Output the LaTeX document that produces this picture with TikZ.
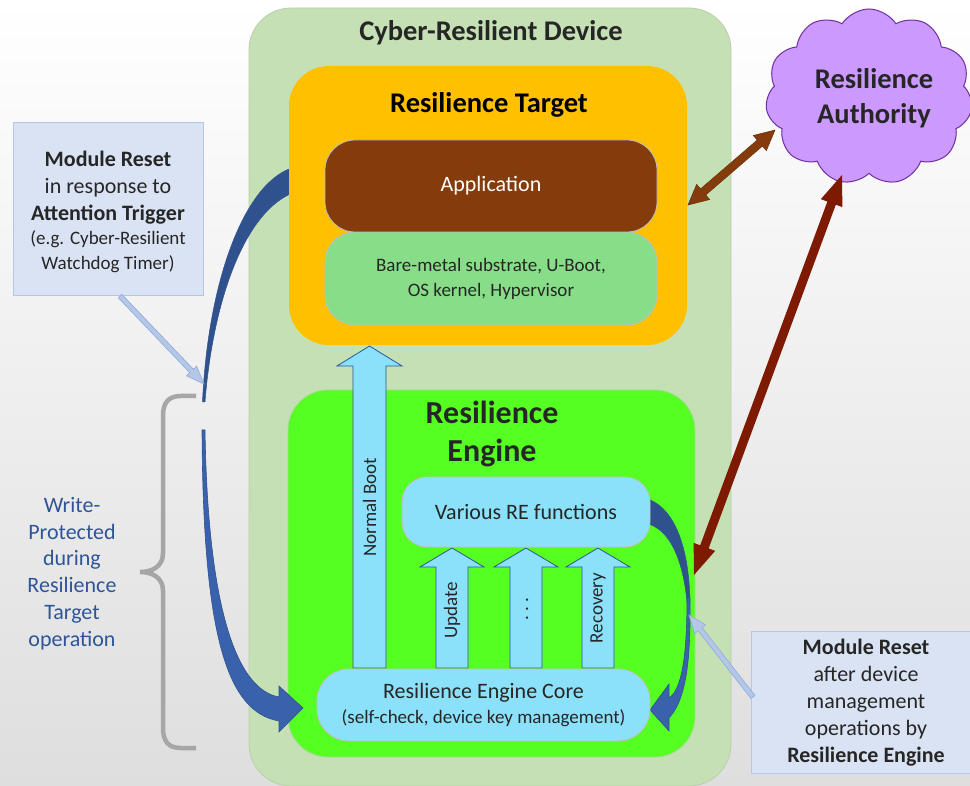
\documentclass[tikz,border=0pt]{standalone}
\usepackage{fontspec}
\setmainfont{Carlito}
\usetikzlibrary{calc,shapes.symbols}

\definecolor{bgmid}{HTML}{F5F5F5}
\definecolor{bgbot}{HTML}{DEDEDE}
\definecolor{devgreen}{HTML}{C5E0B4}
\definecolor{devedge}{HTML}{B9CFAA}
\definecolor{tgtorange}{HTML}{FFC000}
\definecolor{appbrown}{HTML}{843C0C}
\definecolor{brownedge}{HTML}{6A300A}
\definecolor{baregreen}{HTML}{88DD88}
\definecolor{enggreen}{HTML}{55FF22}
\definecolor{engedge}{HTML}{A9D89A}
\definecolor{lblue}{HTML}{8BE1F9}
\definecolor{boxedge}{HTML}{BFBFBF}
\definecolor{arrowedge}{HTML}{2F5597}
\definecolor{darkcurve}{HTML}{2F528F}
\definecolor{midcurve}{HTML}{3A62AC}
\definecolor{callfill}{HTML}{DAE3F3}
\definecolor{calledge}{HTML}{B4C7E7}
\definecolor{calarrow}{HTML}{B4C7E7}
\definecolor{calarrowedge}{HTML}{8FAADC}
\definecolor{cloudfill}{HTML}{CC99FF}
\definecolor{cloudedge}{HTML}{7030A0}
\definecolor{darkred}{HTML}{7F1A02}
\definecolor{bracegray}{HTML}{A6A6A6}
\definecolor{wptext}{HTML}{2F5597}
\definecolor{txt}{HTML}{262626}

\newcommand\fHead{\fontsize{28.5}{35}\selectfont\bfseries}
\newcommand\fEng{\fontsize{32}{38}\selectfont\bfseries}
\newcommand\fBig{\fontsize{22}{26}\selectfont}
\newcommand\fMid{\fontsize{19}{25}\selectfont}
\newcommand\fArr{\fontsize{19}{23}\selectfont}
\newcommand\fCall{\fontsize{22}{27}\selectfont}
\newcommand\fWP{\fontsize{22}{26.7}\selectfont}

% block arrow: from, to, shaft half width, head half width, head length, style
\newcommand\blockarrow[6]{%
  \coordinate (bah) at ($(#2)!#5!(#1)$);
  \path[#6] ($(#1)!#3!90:(#2)$) -- ($(bah)!#3!90:(#2)$) -- ($(bah)!#4!90:(#2)$)
    -- (#2) -- ($(bah)!#4!-90:(#2)$) -- ($(bah)!#3!-90:(#2)$)
    -- ($(#1)!#3!-90:(#2)$) -- cycle;}
% double-headed block arrow
\newcommand\dblarrow[6]{%
  \coordinate (dah1) at ($(#1)!#5!(#2)$);
  \coordinate (dah2) at ($(#2)!#5!(#1)$);
  \path[#6] (#1) -- ($(dah1)!#4!90:(#2)$) -- ($(dah1)!#3!90:(#2)$)
    -- ($(dah2)!#3!90:(#2)$) -- ($(dah2)!#4!90:(#2)$) -- (#2)
    -- ($(dah2)!#4!-90:(#2)$) -- ($(dah2)!#3!-90:(#2)$)
    -- ($(dah1)!#3!-90:(#2)$) -- ($(dah1)!#4!-90:(#2)$) -- cycle;}

\tikzset{
  rbox/.style={rectangle, rounded corners=#1, inner sep=0pt},
  barrow/.style={fill=lblue, draw=arrowedge, line width=0.8pt, line join=miter},
  darkband/.style={fill=darkcurve, draw=darkcurve, line width=0.5pt},
  midband/.style={fill=midcurve, draw=darkcurve, line width=0.6pt},
  callbox/.style={rectangle, fill=callfill, draw=calledge, line width=1pt, inner sep=0pt},
  calarr/.style={fill=calarrow, draw=calarrowedge, line width=0.6pt},
}

\begin{document}
\begin{tikzpicture}[x=1pt,y=-1pt]
\useasboundingbox (0,0) rectangle (970,786);
\shade[top color=white, middle color=bgmid, bottom color=bgbot] (0,0) rectangle (970,786);

% Cyber-Resilient Device
\node[rbox=42pt, fill=devgreen, draw=devedge, line width=0.8pt,
      minimum width=482pt, minimum height=778pt] (dev) at (490,397) {};
\node[font=\fHead, text=txt] (devt) at (491,33) {Cyber-Resilient Device};

% upper-left reset curve (behind target box)
\path[darkband] (295,167) .. controls (245,180) and (208,280) .. (202.5,402)
  -- (205,402) .. controls (213,300) and (245,210) .. (295,192) -- cycle;

% Resilience Target
\node[rbox=40pt, fill=tgtorange, minimum width=398pt, minimum height=279pt] (tgt) at (488,205.5) {};
\node[font=\fHead, text=black] (tgtt) at (489,105) {Resilience Target};
\node[rbox=30pt, fill=baregreen, draw=boxedge, line width=0.8pt, minimum width=332pt,
      minimum height=93pt, font=\fMid, text=txt, align=center] (bare) at (491,278.5)
      {Bare-metal substrate, U-Boot,\\OS kernel, Hypervisor};
\node[rbox=30pt, fill=appbrown, draw=boxedge, line width=0.8pt, minimum width=332pt,
      minimum height=92pt, font=\fBig, text=white] (app) at (491,186) {Application};

% Resilience Engine
\node[rbox=40pt, fill=enggreen, draw=engedge, line width=0.8pt, minimum width=407pt,
      minimum height=367pt] (eng) at (491.5,573.5) {};
\node[font=\fEng, text=txt, align=center] (engt) at (492,434) {Resilience\\Engine};

% Normal Boot arrow
\path[barrow] (353,668) -- (353,366) -- (337,366) -- (369.5,346) -- (402,366)
  -- (386,366) -- (386,668) -- cycle;
\node[rotate=90, font=\fArr, text=txt] (nbt) at (369.5,507) {Normal Boot};

% function arrows
\path[barrow] (436,668) -- (436,567) -- (420,567) -- (452,548) -- (484,567) -- (468,567) -- (468,668) -- cycle;
\path[barrow] (510,668) -- (510,567) -- (494,567) -- (526,548) -- (558,567) -- (542,567) -- (542,668) -- cycle;
\path[barrow] (582,668) -- (582,567) -- (566,567) -- (598,548) -- (630,567) -- (614,567) -- (614,668) -- cycle;
\node[rotate=90, font=\fArr, text=txt] (upt) at (452,610) {Update};
\node[rotate=90, font=\fArr, text=txt] (dott) at (527,609) {.\hspace{4.5pt}.\hspace{4.5pt}.};
\node[rotate=90, font=\fArr, text=txt] (rect) at (598,608) {Recovery};

% right reset curve
\path[darkband] (645,498) .. controls (676,507) and (689,550) .. (690,602)
  -- (687,602) .. controls (683,560) and (670,528) .. (645,523) -- cycle;
\path[midband] (690,598) .. controls (691,660) and (686,700) .. (669,718)
  -- (669,731) -- (650,710) -- (669,684) -- (669,698)
  .. controls (681,690) and (687,660) .. (687,598) -- cycle;

% lower-left reset curve
\path[midband] (202,430) .. controls (203,640) and (228,712) .. (279,721)
  -- (279,732) -- (303,708) -- (279,686) -- (279,697)
  .. controls (240,690) and (208,620) .. (205,430) -- cycle;

% boxes inside the engine
\node[rbox=25pt, fill=lblue, draw=boxedge, line width=0.8pt, minimum width=248pt,
      minimum height=70pt, font=\fBig, text=txt] (var) at (526,512) {Various RE functions};
\node[rbox=32pt, fill=lblue, draw=boxedge, line width=0.8pt, minimum width=333pt,
      minimum height=72pt, font=\fBig, text=txt, align=center] (rec) at (483.5,705)
      {Resilience Engine Core\\[-1pt]{\fMid (self-check, device key management)}};

% Resilience Authority cloud
\node[cloud, cloud puffs=11, cloud puff arc=115, aspect=1.2, fill=cloudfill, draw=cloudedge,
      line width=1pt, minimum width=207pt, minimum height=176pt] (ra) at (869,97) {};
\node[font=\fHead, text=txt, align=center] (rat) at (874,98.5) {Resilience\\Authority};

% brown connections
\coordinate (b1a) at (688,205);
\coordinate (b1b) at (775,130);
\dblarrow{b1a}{b1b}{4pt}{10pt}{20pt}{fill=appbrown, draw=brownedge, line width=0.5pt}
\coordinate (b2a) at (694,575);
\coordinate (b2b) at (842,175);
\dblarrow{b2a}{b2b}{4.5pt}{11.5pt}{30pt}{fill=darkred}

% brace
\draw[bracegray, line width=4.5pt] (196,396) -- (181,396) .. controls (168,396) and (163,403) .. (163,416)
  -- (163,553) .. controls (163,566) and (153,572) .. (140,572)
  .. controls (153,572) and (163,578) .. (163,591)
  -- (163,728) .. controls (163,741) and (168,748) .. (181,748) -- (196,748);
\node[font=\fWP, text=wptext, align=center] (wp) at (72,573.5)
  {Write-\\Protected\\during\\Resilience\\Target\\operation};

% top-left callout
\node[callbox, minimum width=190pt, minimum height=173pt] (tl) at (108,209.5) {};
\node[font=\fCall, text=txt, align=center] (tlt) at (108,212)
  {\textbf{Module Reset}\\in response to\\\textbf{Attention Trigger}\\[-3pt]{\fMid (e.g. Cyber-Resilient}\\[-2pt]{\fMid Watchdog Timer)}};
\coordinate (tla) at (120,296);
\coordinate (tlb) at (204,384);
\blockarrow{tla}{tlb}{2.5pt}{7pt}{18pt}{calarr}

% bottom-right callout
\node[callbox, minimum width=226pt, minimum height=142pt] (br) at (864,702) {};
\node[font=\fCall, text=txt, align=center] (brt) at (866,703)
  {\textbf{Module Reset}\\after device\\management\\operations by\\\textbf{Resilience Engine}};
\coordinate (bra) at (753,697);
\coordinate (brb) at (689,615);
\blockarrow{bra}{brb}{2.5pt}{7pt}{18pt}{calarr}
\end{tikzpicture}
\end{document}
